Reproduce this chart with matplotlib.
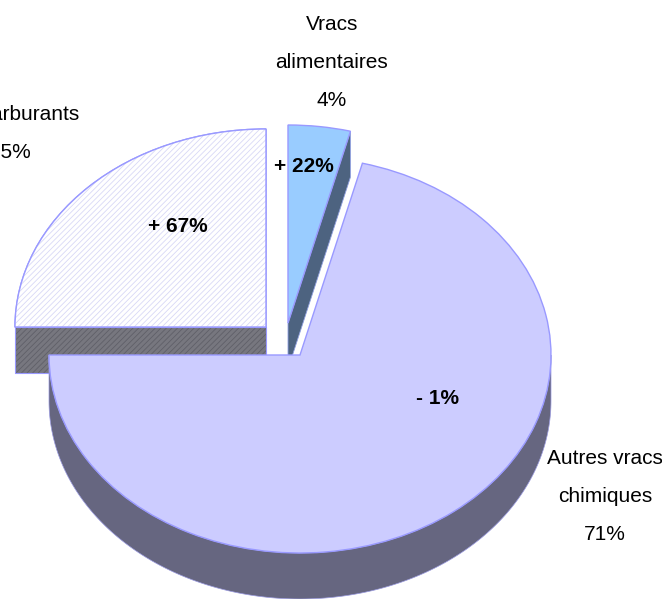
import numpy as np
import matplotlib
matplotlib.use("Agg")
import matplotlib.pyplot as plt
from matplotlib.patches import Wedge

categories = ["Carburants", "Vracs\nalimentaires", "Autres vracs\nchimiques"]
shares = [25, 4, 71]
evolutions = ["+ 67%", "+ 22%", "- 1%"]

W, H = 662, 599
# ellipse of the pie seen from above, in pixels
RX, RY, DEPTH = 251, 198, 46
CENTER = (300, 355)
apexes = [(266, 327), (288, 323), (300, 355)]
colors = ["white", "#99ccff", "#ccccff"]
side_colors = ["#77777f", "#4d6380", "#666680"]
EDGE = "#9999ff"


def to_data(px, py):
    return (px - CENTER[0]) / RX, (CENTER[1] - py) / RY


plt.rcParams["hatch.linewidth"] = 0.6
plt.rcParams["font.family"] = ["Liberation Sans"]

fig = plt.figure(figsize=(W / 100, H / 100), dpi=100)
ax = fig.add_axes([0, 0, 1, 1])

wedges, _ = ax.pie(shares, startangle=180, counterclock=False, colors=colors,
                   wedgeprops={"edgecolor": EDGE, "linewidth": 1.0, "zorder": 5})
ax.set_aspect("auto")
ax.set_xlim(to_data(0, 0)[0], to_data(W, 0)[0])
ax.set_ylim(to_data(0, H)[1], to_data(0, 0)[1])
ax.axis("off")

for w, apex in zip(wedges, apexes):
    w.set_center(to_data(*apex))

d = DEPTH / RY

# carburants: cut face in front, hatched
cx, cy = wedges[0].center
ax.fill([cx - 1, cx, cx, cx - 1], [cy, cy, cy - d, cy - d], facecolor=side_colors[0],
        edgecolor="#5f5f68", hatch="//////", linewidth=0, zorder=1)
ax.plot([cx - 1, cx - 1, cx, cx, cx - 1], [cy, cy - d, cy - d, cy, cy], color=EDGE, lw=0.8, zorder=2)

# hatch on the carburants top
ax.add_patch(Wedge(wedges[0].center, 1, wedges[0].theta1, wedges[0].theta2, facecolor="white",
                   edgecolor="#d8d8f6", hatch="//////", linewidth=0, zorder=5.1))
ax.add_patch(Wedge(wedges[0].center, 1, wedges[0].theta1, wedges[0].theta2, facecolor="none",
                   edgecolor=EDGE, linewidth=1.0, zorder=5.2))

# vracs: right cut face
cx, cy = wedges[1].center
t = np.radians(wedges[1].theta1)
tipx, tipy = cx + np.cos(t), cy + np.sin(t)
ax.fill([cx, tipx, tipx, cx], [cy, tipy, tipy - d, cy - d], facecolor=side_colors[1],
        edgecolor="#8f9fe0", linewidth=0.6, zorder=2)

# main slice: outer wall, lower half of the ellipse
cx, cy = wedges[2].center
t = np.radians(np.linspace(180, 360, 200))
xs, ys = cx + np.cos(t), cy + np.sin(t)
ax.fill(np.r_[xs, xs[::-1]], np.r_[ys, ys[::-1] - d], facecolor=side_colors[2],
        edgecolor="#9a9ae0", linewidth=0.5, zorder=6)
wedges[2].set_zorder(7)

# text positions in pixels from the top left, the first label runs off the picture as in the source
name_pos = [[(28, 115), (10, 153)], [(332, 25), (332, 63), (332, 101)], [(605, 459), (605, 497), (605, 535)]]
for cat, share, pos in zip(categories, shares, name_pos):
    lines = cat.split("\n") + [f"{share}%"]
    for line, (px, py) in zip(lines, pos):
        ax.text(*to_data(px, py), line, ha="center", va="center", color="black", fontsize=15, zorder=10)

eval_pos = [(178, 226), (304, 167), (438, 398)]
for label, (px, py) in zip(evolutions, eval_pos):
    ax.text(*to_data(px, py), label, ha="center", va="center", fontsize=15, fontweight="bold",
            color="black", zorder=10)

fig.savefig("out.png", dpi=100)
